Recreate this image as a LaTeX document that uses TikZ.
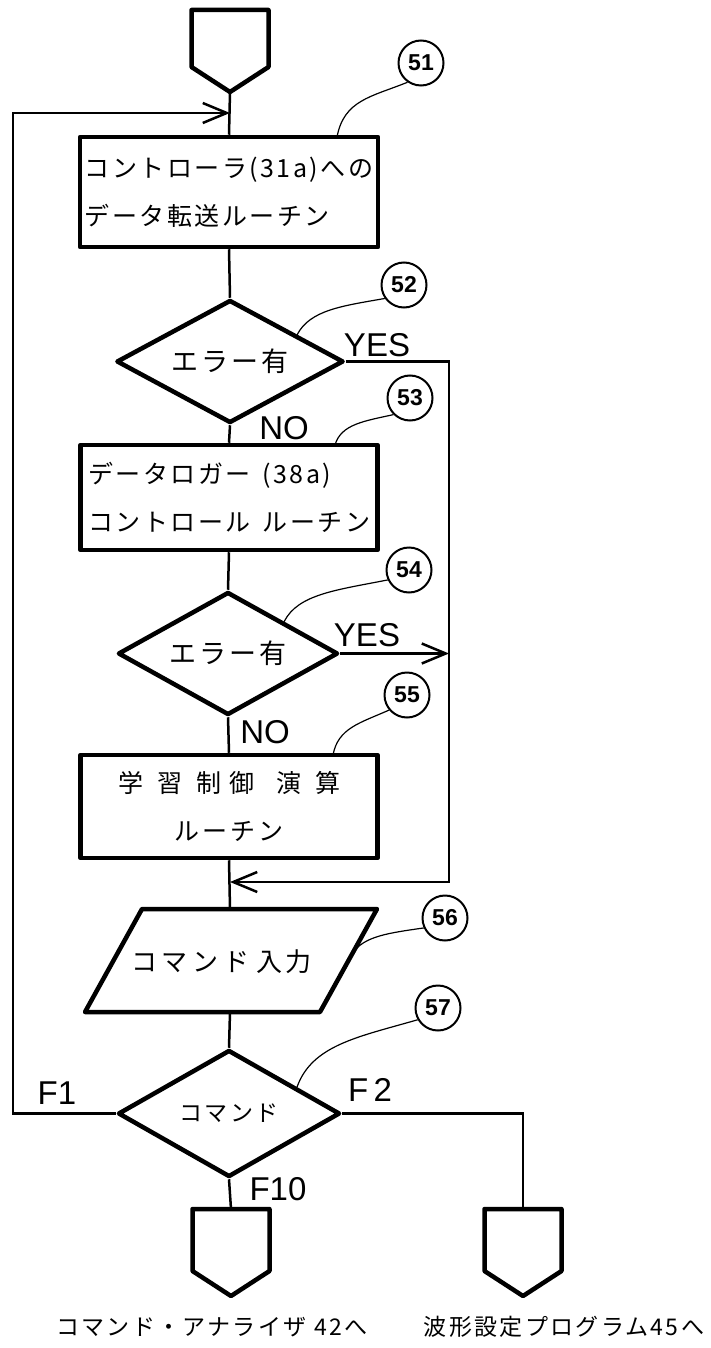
\documentclass[tikz,border=0pt]{standalone}
\usepackage{fontspec}
\setmainfont{Liberation Sans}
\newfontfamily\jp[LetterSpace=10]{Noto Sans CJK JP}
\usetikzlibrary{shapes.geometric,arrows.meta,calc}
\newcommand\pentagonshape[4]{%
  \draw[shp] (#2-38.5,#3) -- (#2+38.5,#3) -- (#2+38.5,#3+#4-25) -- (#2,#3+#4) -- (#2-38.5,#3+#4-25) -- cycle;
  \coordinate (#1-n) at (#2,#3);
  \coordinate (#1-s) at (#2,#3+#4);}
\begin{document}
\begin{tikzpicture}[x=1pt,y=-1pt,
  shp/.style={draw, line width=4.5pt, line join=round},
  box/.style={shp, rectangle, inner sep=0pt, font=\jp\fontsize{25}{48}\selectfont},
  dia/.style={shp, diamond, inner sep=0pt, aspect=1.8, font=\jp\fontsize{27}{27}\selectfont},
  conn/.style={line width=2.5pt},
  leader/.style={line width=1.2pt},
  lbl/.style={draw, circle, line width=2pt, minimum size=45pt, inner sep=0pt, font=\bfseries\fontsize{23}{23}\selectfont},
  arr/.style={-{Straight Barb[length=24pt,width=20pt]}},
  yn/.style={inner sep=0pt, font=\fontsize{33}{33}\selectfont},
  jtxt/.style={inner sep=0pt, font=\jp\fontsize{26}{26}\selectfont}
]
\useasboundingbox (0,0) rectangle (710,1348);

% terminals
\pentagonshape{start}{230}{10}{82}
\pentagonshape{endA}{231}{1209}{87}
\pentagonshape{endB}{523}{1209}{87}

% process boxes
\node[box, minimum width=298pt, minimum height=110pt, align=left] (b51) at (229,192)
  {コントローラ(31a)への\\データ転送ルーチン};
\node[dia, minimum width=227pt, minimum height=123pt] (d52) at (230,361.5) {エラー有};
\node[box, minimum width=297pt, minimum height=105pt, align=left] (b53) at (229,497.5)
  {データロガー\hspace{12pt}(38a)\\コントロール\hspace{12pt}ルーチン};
\node[dia, minimum width=220pt, minimum height=123pt] (d54) at (228,653.5) {エラー有};
\node[box, minimum width=297pt, minimum height=103pt, align=center] (b55) at (229,806.5)
  {学\hspace{14pt}習\hspace{14pt}制\hspace{8pt}御\hspace{22pt}演\hspace{14pt}算\\ル\hspace{3pt}ー\hspace{3pt}チ\hspace{3pt}ン\hspace{12pt}};

% parallelogram
\draw[shp] (142,909) coordinate (p56-tl) -- (377,909) coordinate (p56-tr)
  -- (320,1012) coordinate (p56-br) -- (85,1012) coordinate (p56-bl) -- cycle;
\coordinate (p56-n) at (230,909);
\coordinate (p56-s) at (230,1012);
\node[jtxt] (t56) at (221,962) {コ\hspace{5pt}マ\hspace{5pt}ン\hspace{5pt}ド\hspace{7pt}入\hspace{2pt}力};

\node[dia, minimum width=222pt, minimum height=127pt, font=\jp\fontsize{23}{23}\selectfont] (d57) at (229,1113.5) {コマンド};

% junction coordinates
\coordinate (lx) at (13,0);
\coordinate (rx) at (449,0);
\coordinate (j1) at (230,113);
\coordinate (j2) at (230,882);

% main flow
\draw[conn] (start-s) -- (b51.north);
\draw[conn] (b51.south) -- (d52.north);
\draw[conn] (d52.south) -- (b53.north);
\draw[conn] (b53.south) -- (d54.north);
\draw[conn] (d54.south) -- (b55.north);
\draw[conn] (b55.south) -- (p56-n);
\draw[conn] (p56-s) -- (d57.north);
\draw[conn] (d57.south) -- (endA-n);
\draw[conn] (d57.east) -| (endB-n);

% loops
\draw[conn, arr] (d57.west) -- (d57.west -| lx) -- (j1 -| lx) -- (j1);
\draw[conn, arr] (d52.east) -- (d52.east -| rx) -- (j2 -| rx) -- (j2);
\draw[conn, arr] (d54.east) -- (d54.east -| rx);

% branch labels
\node[yn] (y52) at (377,345) {YES};
\node[yn] (n52) at (284,428) {NO};
\node[yn] (y54) at (367,635) {YES};
\node[yn] (n54) at (265,732) {NO};
\node[yn] (f1) at (57,1093) {F1};
\node[yn] (f2) at (370,1090) {F\,2};
\node[yn] (f10) at (278,1189) {F10};

% reference numerals
\node[lbl] (c51) at (421,63) {51};
\node[lbl] (c52) at (404,285) {52};
\node[lbl] (c53) at (410,398) {53};
\node[lbl] (c54) at (409,570) {54};
\node[lbl] (c55) at (407,695) {55};
\node[lbl] (c56) at (445,918) {56};
\node[lbl] (c57) at (438,1008) {57};

\coordinate (e51) at (337,137);
\coordinate (e52) at ($(d52.north)!0.58!(d52.east)$);
\coordinate (e53) at (335,445);
\coordinate (e54) at ($(d54.north)!0.5!(d54.east)$);
\coordinate (e55) at (333,755);
\coordinate (e56) at ($(p56-tr)!0.43!(p56-br)$);
\coordinate (e57) at ($(d57.north)!0.6!(d57.east)$);

\draw[leader] (c51.235) .. controls (371,97) and (344,100) .. (e51);
\draw[leader] (c52.215) .. controls (342,306) and (310,310) .. (e52);
\draw[leader] (c53.225) .. controls (365,421) and (341,424) .. (e53);
\draw[leader] (c54.205) .. controls (337,590) and (298,594) .. (e54);
\draw[leader] (c55.220) .. controls (360,723) and (338,728) .. (e55);
\draw[leader] (c56.205) .. controls (389,933) and (364,936) .. (e56);
\draw[leader] (c57.210) .. controls (358,1037) and (312,1045) .. (e57);

% bottom captions
\node[jtxt, font=\jp\fontsize{23}{23}\selectfont] (cap1) at (212,1327) {コマンド・アナライザ\hspace{8pt}42へ};
\node[jtxt, font=\jp\fontsize{23}{23}\selectfont] (cap2) at (564,1327) {波形設定プログラム45へ};
\end{tikzpicture}
\end{document}
